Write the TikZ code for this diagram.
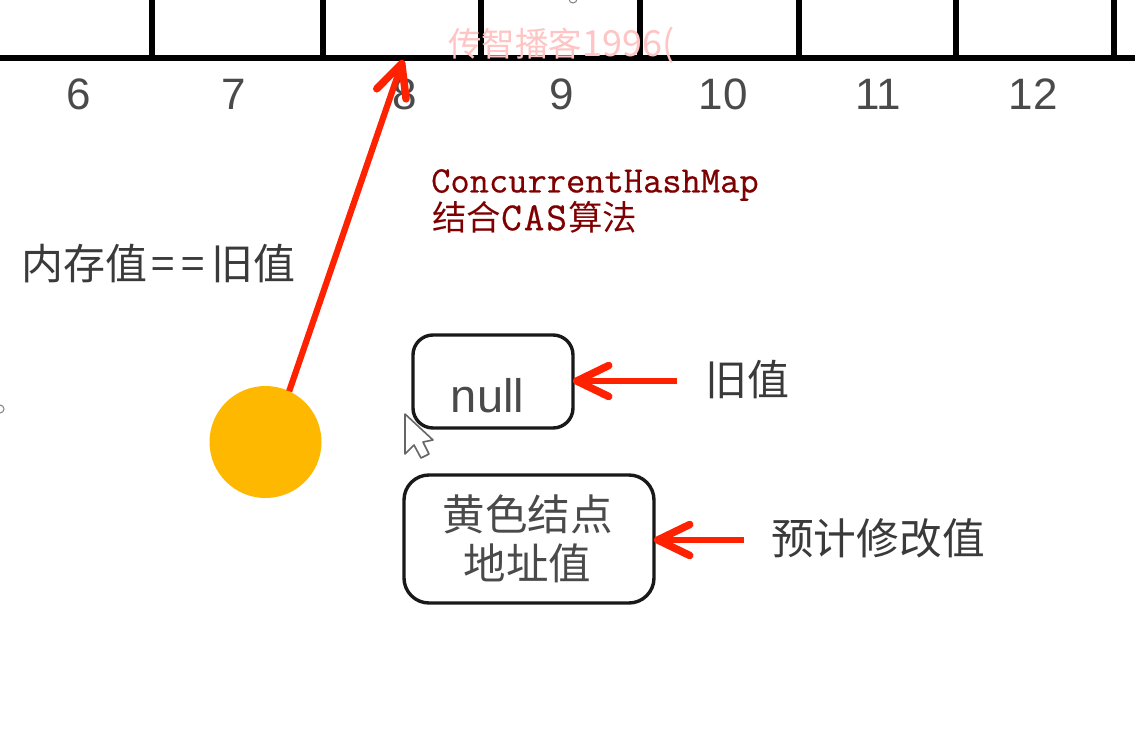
\documentclass[tikz,border=0pt]{standalone}
\usepackage{fontspec}
\setmainfont{Liberation Sans}
\newfontfamily\cjk{Noto Sans CJK SC}
\newfontfamily\titlemono[FakeBold=0.5]{Latin Modern Mono}
\usetikzlibrary{arrows.meta}
\definecolor{txtgray}{HTML}{3A3A3A}
\definecolor{numgray}{HTML}{4A4A4A}
\definecolor{redline}{HTML}{FF2200}
\definecolor{darkred}{HTML}{7F0000}
\definecolor{mark}{HTML}{FFC4C4}
\definecolor{dot}{HTML}{FFB800}
\newcommand{\fsz}[1]{\fontsize{#1}{#1}\selectfont}
\tikzset{
  grid line/.style={draw=black,line width=5.5pt},
  numlabel/.style={inner sep=0,text=numgray,font=\fsz{44}},
  cjklabel/.style={inner sep=0,text=txtgray,font=\cjk\fsz{42}},
  valbox/.style={draw=black!90,line width=3.4pt,fill=white,inner sep=0,outer sep=0},
  redarrow/.style={draw=redline,line width=6.2pt,-{Straight Barb[length=32pt,width=31pt,line width=7.5pt,round]}},
}
\begin{document}
\begin{tikzpicture}[x=1pt,y=-1pt]
\useasboundingbox[fill=white] (0,0) rectangle (1135,733);
% ruler
\coordinate (hl) at (0,58);
\coordinate (hr) at (1135,58);
\foreach \n/\x in {a/152,b/323,c/481,d/640,e/799,f/956,g/1114}{
  \coordinate (t\n) at (\x,0);
  \coordinate (b\n) at (\x,58);
  \draw[grid line] (t\n) -- (b\n);
}
\draw[grid line] (hl) -- (hr);
% numbers
\foreach \n/\x in {6/79,7/234,8/405,9/562,10/723,11/878,12/1033}{
  \node[numlabel] (num\n) at (\x,94) {\n};
}
% watermark
\node[inner sep=0,anchor=west,text=mark,font=\cjk\fsz{33.5}] (wm) at (448,45) {传智播客{\fsz{36}1996(}};
% marks at the edges
\node[circle,draw=gray,line width=1pt,minimum size=8pt,inner sep=0] (edgeA) at (0,409) {};
\node[circle,draw=gray,line width=1pt,minimum size=8pt,inner sep=0] (edgeB) at (573,-1) {};
% red title
\node[inner sep=0,anchor=west,text=darkred,font=\titlemono\fsz{37.4}] (title1) at (431,185) {ConcurrentHashMap};
\node[inner sep=0,anchor=west,text=darkred,font=\fsz{34.5}] (title2) at (432,217) {\cjk 结合{\titlemono\fsz{40}C\kern2pt A\kern2pt S}\kern1pt 算法};
% left label
\node[cjklabel,anchor=west] (eq) at (21,264) {内存值\kern4pt=\kern7pt=\kern7pt旧值};
% circle
\node[circle,fill=dot,minimum size=112pt,inner sep=0,outer sep=0] (ball) at (265.5,442) {};
\coordinate (slot8) at (403,60);
\draw[redarrow] (ball.65.6) -- (slot8);
% boxes
\node[valbox,rounded corners=20pt,minimum width=160pt,minimum height=93pt] (oldbox) at (493,381.5) {};
\node[inner sep=0,text=numgray,font=\fsz{47}] (nulltxt) at (487.5,396) {null};
\node[valbox,rounded corners=25pt,minimum width=250pt,minimum height=128pt,align=center,text=numgray,font=\cjk\fontsize{42.5}{49}\selectfont] (newbox) at (529,539) {\kern-3pt 黄色结点\\\kern-3pt 地址值};
% right labels
\node[cjklabel,anchor=west] (oldlab) at (705,380) {旧值};
\node[cjklabel,anchor=west,font=\cjk\fsz{42.7}] (newlab) at (771,538) {预计修改值};
\coordinate (tailold) at (677,381);
\coordinate (tailnew) at (744,540);
\draw[redarrow] (tailold) -- (oldbox.east |- tailold);
\draw[redarrow] (tailnew) -- (newbox.east |- tailnew);
% cursor
\draw[fill=white,draw=gray!80!black,line width=1.6pt,line join=round]
  (405,414) -- (405,454) -- (414,445) -- (421,458) -- (429,454) -- (423,442) -- (433,440) -- cycle;
\end{tikzpicture}
\end{document}
